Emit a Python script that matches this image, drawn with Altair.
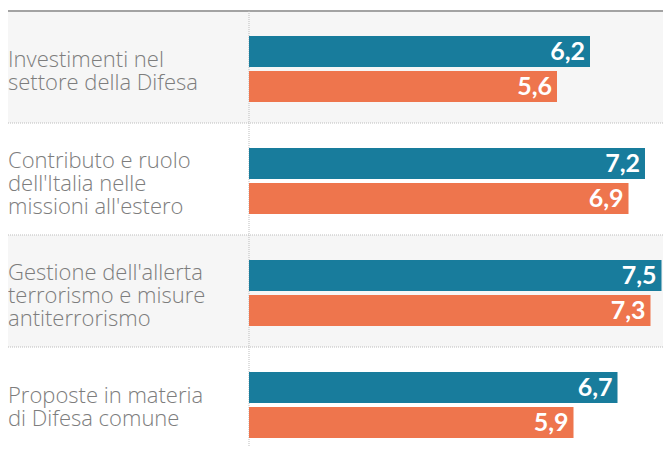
import altair as alt
import pandas as pd

categories = [
    "Investimenti nel\nsettore della Difesa",
    "Contributo e ruolo\ndell'Italia nelle\nmissioni all'estero",
    "Gestione dell'allerta\nterrorismo e misure\nantiterrorismo",
    "Proposte in materia\ndi Difesa comune",
]
series = ["2021", "2020"]
values_2021 = [6.2, 7.2, 7.5, 6.7]
values_2020 = [5.6, 6.9, 7.3, 5.9]
colors = ["#187c9c", "#ee754d"]
row_shades = ["#f6f6f6", "#ffffff", "#f6f6f6", "#ffffff"]

rows = pd.DataFrame({
    "row": categories,
    "shade": row_shades,
    "zero": [0, 0, 0, 0],
    "nlines": [c.count("\n") + 1 for c in categories],
})
recs = []
for c, a, b in zip(categories, values_2021, values_2020):
    for s, v in zip(series, (a, b)):
        recs.append({"row": c, "series": s, "value": v,
                     "label": f"{v:.1f}".replace(".", ",")})
bars_df = pd.DataFrame(recs)

PLOT_W = 414
XMAX = PLOT_W / 55
xscale = alt.Scale(domain=[0, XMAX], nice=False, zero=True)
yscale = alt.Scale(domain=categories, paddingInner=0, paddingOuter=0, range=[0, 448])
Y = alt.Y("row:N", scale=yscale, axis=None)
Yoff = alt.YOffset("series:N", scale=alt.Scale(domain=series, paddingInner=4 / 35,
                                               paddingOuter=0.657, align=0.543))
X = alt.X("value:Q", scale=xscale, axis=None)

bg = alt.Chart(rows).mark_rect().encode(
    y=Y, x=alt.value(-241), x2=alt.value(PLOT_W),
    fill=alt.Fill("shade:N", scale=None),
)

seps = alt.Chart(rows.iloc[1:]).mark_rule(strokeDash=[1, 1], color="#bdbdbd", strokeWidth=1).encode(
    y=alt.Y("row:N", scale=yscale, axis=None, bandPosition=0),
    x=alt.value(-241), x2=alt.value(PLOT_W),
)

top_line = alt.Chart(rows.iloc[:1]).mark_rule(color="#a3a3a3", strokeWidth=2).encode(
    y=alt.Y("row:N", scale=yscale, axis=None, bandPosition=0),
    x=alt.value(-241), x2=alt.value(PLOT_W),
)

zero_line = alt.Chart(rows.iloc[:1]).mark_rule(strokeDash=[1, 1], color="#bdbdbd", strokeWidth=1).encode(
    x=alt.X("zero:Q", scale=xscale, axis=None),
)

bars = alt.Chart(bars_df).mark_bar().encode(
    y=Y, yOffset=Yoff, x=X,
    color=alt.Color("series:N", scale=alt.Scale(domain=series, range=colors), legend=None),
)

vlabels = alt.Chart(bars_df).mark_text(
    align="right", baseline="middle", dx=-5, dy=1, color="white",
    font="Lato", fontSize=25, fontWeight="bold",
).encode(y=Y, yOffset=Yoff, x=X, text="label:N")

label_style = dict(align="left", baseline="alphabetic", lineBreak="\n", lineHeight=23,
                   font="Open Sans", fontSize=22, fontWeight=300, color="#7d7d7d")

clabels2 = alt.Chart(rows).transform_filter("datum.nlines == 2").mark_text(
    dy=0, **label_style
).encode(y=Y, x=alt.value(-241), text="row:N")

clabels3 = alt.Chart(rows).transform_filter("datum.nlines == 3").mark_text(
    dy=-11.5, **label_style
).encode(y=Y, x=alt.value(-241), text="row:N")

chart = alt.layer(bg, seps, top_line, zero_line, bars, vlabels, clabels2, clabels3).properties(
    width=PLOT_W, height=436,
    padding={"left": 241, "top": 3, "right": 0, "bottom": 0},
    autosize=alt.AutoSizeParams(type="none"),
    background="white",
).configure_view(stroke=None)

chart.save("out.html", embed_options={"renderer": "svg", "actions": False})
